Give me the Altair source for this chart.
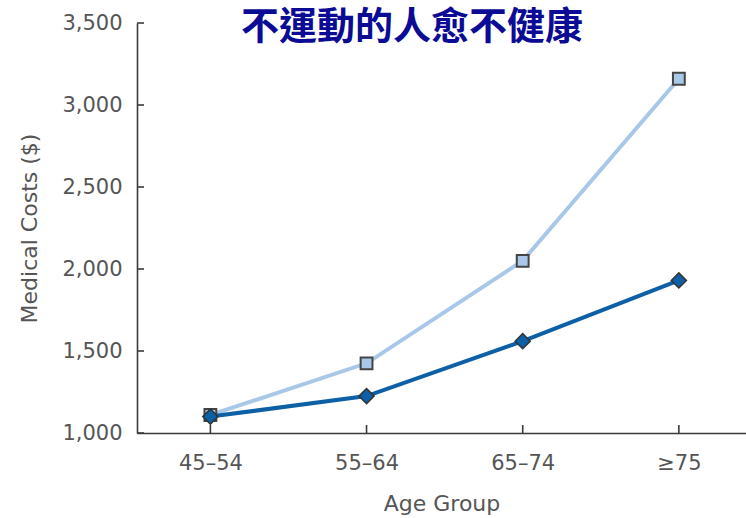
import json
import altair as alt
import pandas as pd

# ---- data ----
age_groups = ["45–54", "55–64", "65–74", "≥75"]
inactive_costs = [1110, 1425, 2050, 3160]
active_costs = [1100, 1225, 1560, 1930]
y_ticks = [1000, 1500, 2000, 2500, 3000, 3500]
title_text = "不運動的人愈不健康"

idx = list(range(len(age_groups)))
df_inactive = pd.DataFrame({"idx": idx, "cost": inactive_costs, "age": age_groups})
df_active = pd.DataFrame({"idx": idx, "cost": active_costs, "age": age_groups})
df_yt = pd.DataFrame({"v": y_ticks})
df_xt = pd.DataFrame({"idx": idx})
df_title = pd.DataFrame({"t": [title_text]})

W, H = 609, 410
FONT = "DejaVu Sans"
TXT = "#555555"
AX = "#3a3a3a"

label_expr = json.dumps(age_groups) + "[datum.value]"

xscale = alt.Scale(domain=[-0.47, 3.43], nice=False, zero=False)
yscale = alt.Scale(domain=[1000, 3500], nice=False, zero=False)

x_enc = alt.X(
    "idx:Q",
    scale=xscale,
    axis=alt.Axis(
        values=idx,
        labelExpr=label_expr,
        title="Age Group",
        grid=False,
        ticks=False,
        tickSize=0,
        labelPadding=19,
        titlePadding=20,
        labelFont=FONT,
        labelFontSize=21,
        labelColor=TXT,
        titleFont=FONT,
        titleFontSize=22,
        titleFontWeight="normal",
        titleColor=TXT,
        domainColor=AX,
        domainWidth=1.6,
    ),
)
y_enc = alt.Y(
    "cost:Q",
    scale=yscale,
    axis=alt.Axis(
        values=y_ticks,
        format=",.0f",
        title="Medical Costs ($)",
        grid=False,
        ticks=False,
        tickSize=0,
        labelPadding=15,
        titlePadding=20,
        labelFont=FONT,
        labelFontSize=21,
        labelColor=TXT,
        titleFont=FONT,
        titleFontSize=22,
        titleFontWeight="normal",
        titleColor=TXT,
        domainColor=AX,
        domainWidth=1.6,
    ),
)

LIGHT = "#a9c7e8"
DARK = "#0d5fa6"

inactive_line = alt.Chart(df_inactive).mark_line(color=LIGHT, strokeWidth=4).encode(x=x_enc, y=y_enc)
inactive_pts = alt.Chart(df_inactive).mark_point(
    shape="square", filled=True, fill=LIGHT, stroke="#444444", strokeWidth=2, size=140, opacity=1
).encode(x="idx:Q", y="cost:Q")

active_line = alt.Chart(df_active).mark_line(color=DARK, strokeWidth=4).encode(x="idx:Q", y="cost:Q")
active_pts = alt.Chart(df_active).mark_point(
    shape="diamond", filled=True, fill=DARK, stroke="#333333", strokeWidth=1.5, size=230, opacity=1
).encode(x="idx:Q", y="cost:Q")

y_tick_marks = alt.Chart(df_yt).mark_rule(color=AX, strokeWidth=1.6).encode(
    y=alt.Y("v:Q"), x=alt.value(0), x2=alt.value(7)
)
x_tick_marks = alt.Chart(df_xt).mark_rule(color=AX, strokeWidth=1.6).encode(
    x=alt.X("idx:Q"), y=alt.value(H), y2=alt.value(H - 8)
)

title_mark = alt.Chart(df_title).mark_text(
    font="Noto Sans CJK TC", fontWeight="bold", fontSize=38, color="#0b0b95",
    align="center", baseline="middle",
).encode(text="t:N", x=alt.value(275), y=alt.value(5))

chart = (
    alt.layer(inactive_line, inactive_pts, active_line, active_pts, y_tick_marks, x_tick_marks, title_mark)
    .properties(
        width=W,
        height=H,
        autosize=alt.AutoSizeParams(type="none"),
        padding={"left": 137, "top": 23, "right": 0, "bottom": 85},
        background="white",
    )
    .configure_view(strokeWidth=0)
)

chart.save("out.html", embed_options={"renderer": "svg", "actions": False})
